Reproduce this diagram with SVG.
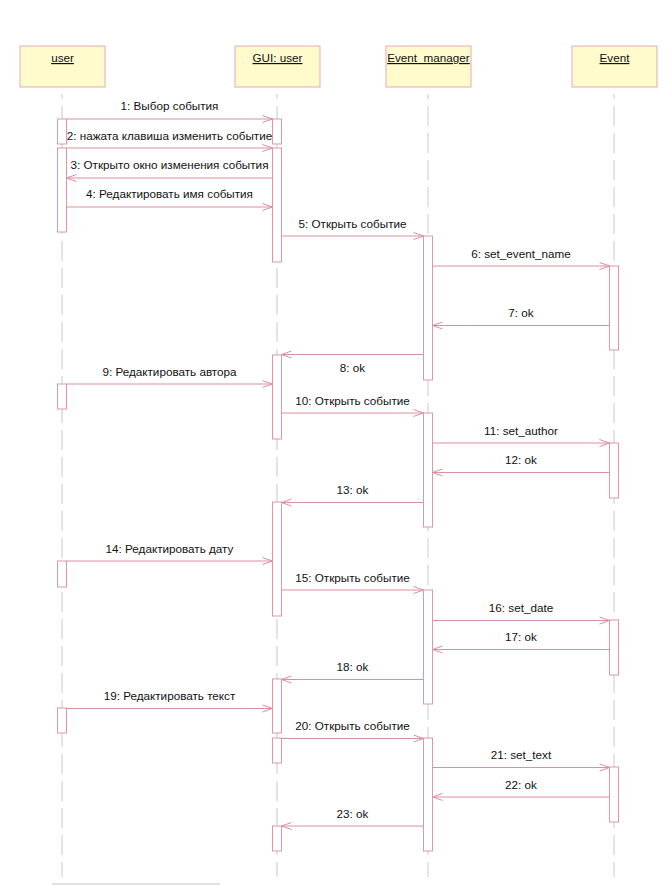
<svg xmlns="http://www.w3.org/2000/svg" width="668" height="885" viewBox="0 0 668 885">
<style>
.box{fill:#FFFBCC;stroke:#E6A9B4;stroke-width:1}
.obj{font-family:"Liberation Sans",Arial,sans-serif;font-size:11.7px;fill:#111;text-anchor:middle;text-decoration:underline}
.life{stroke:#C9C9C9;stroke-width:1;stroke-dasharray:20 7;stroke-dashoffset:15}
.act{fill:#FFFFFF;stroke:#DC98A8;stroke-width:1}
.msg{stroke:#DC8EA2;stroke-width:1;fill:none;marker-end:url(#ah)}
.lbl{font-family:"Liberation Sans",Arial,sans-serif;font-size:11.7px;fill:#111;text-anchor:middle}
</style>
<defs>
<marker id="ah" markerUnits="userSpaceOnUse" markerWidth="14" markerHeight="10" viewBox="-12 -5 14 10" refX="0" refY="0" orient="auto">
<path d="M -10 -3.5 L 0 0 L -10 3.5" fill="none" stroke="#DC8EA2" stroke-width="1"/>
</marker>
</defs>
<rect width="668" height="885" fill="#FFFFFF"/>

<g id="user">
<rect class="box" x="20" y="46" width="85" height="41"/>
<text class="obj" x="62.5" y="62">user</text>
<line class="life" x1="62" y1="94" x2="62" y2="877"/>
<rect class="act" x="57.5" y="119" width="9" height="25"/>
<rect class="act" x="57.5" y="148" width="9" height="84"/>
<rect class="act" x="57.5" y="384" width="9" height="25"/>
<rect class="act" x="57.5" y="561" width="9" height="26"/>
<rect class="act" x="57.5" y="708" width="9" height="25"/>
</g>

<g id="gui_user">
<rect class="box" x="235" y="46" width="85" height="41"/>
<text class="obj" x="277.5" y="62">GUI: user</text>
<line class="life" x1="277" y1="94" x2="277" y2="877"/>
<rect class="act" x="272.5" y="119" width="9" height="25"/>
<rect class="act" x="272.5" y="148" width="9" height="114"/>
<rect class="act" x="272.5" y="355" width="9" height="84"/>
<rect class="act" x="272.5" y="502" width="9" height="114"/>
<rect class="act" x="272.5" y="679" width="9" height="54"/>
<rect class="act" x="272.5" y="738" width="9" height="25"/>
<rect class="act" x="272.5" y="826" width="9" height="25"/>
</g>

<g id="event_manager">
<rect class="box" x="386" y="46" width="85" height="41"/>
<text class="obj" x="428.5" y="62">Event_manager</text>
<line class="life" x1="428" y1="94" x2="428" y2="877"/>
<rect class="act" x="423.5" y="236" width="9" height="144"/>
<rect class="act" x="423.5" y="413" width="9" height="114"/>
<rect class="act" x="423.5" y="590" width="9" height="114"/>
<rect class="act" x="423.5" y="738" width="9" height="113"/>
</g>

<g id="event">
<rect class="box" x="572" y="46" width="85" height="41"/>
<text class="obj" x="614.5" y="62">Event</text>
<line class="life" x1="614" y1="94" x2="614" y2="877"/>
<rect class="act" x="609.5" y="266" width="9" height="84"/>
<rect class="act" x="609.5" y="443" width="9" height="55"/>
<rect class="act" x="609.5" y="620" width="9" height="55"/>
<rect class="act" x="609.5" y="767" width="9" height="55"/>
</g>

<g id="connectors">
<line class="msg" x1="66.5" y1="119" x2="272.5" y2="119"/>
<text class="lbl" x="169.5" y="110">1: Выбор события</text>
<line class="msg" x1="66.5" y1="148" x2="272.5" y2="148"/>
<text class="lbl" x="169.5" y="139.5">2: нажата клавиша изменить событие</text>
<line class="msg" x1="272.5" y1="178" x2="66.5" y2="178"/>
<text class="lbl" x="169.5" y="169">3: Открыто окно изменения события</text>
<line class="msg" x1="66.5" y1="207" x2="272.5" y2="207"/>
<text class="lbl" x="169.5" y="198">4: Редактировать имя события</text>
<line class="msg" x1="281.5" y1="236" x2="423.5" y2="236"/>
<text class="lbl" x="352.5" y="228">5: Открыть событие</text>
<line class="msg" x1="432.5" y1="266" x2="609.5" y2="266"/>
<text class="lbl" x="521" y="257.5">6: set_event_name</text>
<line class="msg" x1="609.5" y1="325.5" x2="432.5" y2="325.5"/>
<text class="lbl" x="521" y="317">7: ok</text>
<line class="msg" x1="423.5" y1="354.5" x2="281.5" y2="354.5"/>
<text class="lbl" x="352.5" y="371.5">8: ok</text>
<line class="msg" x1="66.5" y1="384" x2="272.5" y2="384"/>
<text class="lbl" x="169.5" y="375.5">9: Редактировать автора</text>
<line class="msg" x1="281.5" y1="413" x2="423.5" y2="413"/>
<text class="lbl" x="352.5" y="405">10: Открыть событие</text>
<line class="msg" x1="432.5" y1="443" x2="609.5" y2="443"/>
<text class="lbl" x="521" y="434.5">11: set_author</text>
<line class="msg" x1="609.5" y1="472.5" x2="432.5" y2="472.5"/>
<text class="lbl" x="521" y="464">12: ok</text>
<line class="msg" x1="423.5" y1="502.5" x2="281.5" y2="502.5"/>
<text class="lbl" x="352.5" y="494">13: ok</text>
<line class="msg" x1="66.5" y1="561" x2="272.5" y2="561"/>
<text class="lbl" x="169.5" y="552.5">14: Редактировать дату</text>
<line class="msg" x1="281.5" y1="590" x2="423.5" y2="590"/>
<text class="lbl" x="352.5" y="581.5">15: Открыть событие</text>
<line class="msg" x1="432.5" y1="620.5" x2="609.5" y2="620.5"/>
<text class="lbl" x="521" y="612">16: set_date</text>
<line class="msg" x1="609.5" y1="649.5" x2="432.5" y2="649.5"/>
<text class="lbl" x="521" y="641">17: ok</text>
<line class="msg" x1="423.5" y1="679.5" x2="281.5" y2="679.5"/>
<text class="lbl" x="352.5" y="671">18: ok</text>
<line class="msg" x1="66.5" y1="708.5" x2="272.5" y2="708.5"/>
<text class="lbl" x="169.5" y="700">19: Редактировать текст</text>
<line class="msg" x1="281.5" y1="738.5" x2="423.5" y2="738.5"/>
<text class="lbl" x="352.5" y="730">20: Открыть событие</text>
<line class="msg" x1="432.5" y1="767.5" x2="609.5" y2="767.5"/>
<text class="lbl" x="521" y="759">21: set_text</text>
<line class="msg" x1="609.5" y1="797" x2="432.5" y2="797"/>
<text class="lbl" x="521" y="788.5">22: ok</text>
<line class="msg" x1="423.5" y1="826" x2="281.5" y2="826"/>
<text class="lbl" x="352.5" y="818">23: ok</text>
</g>

<line x1="52" y1="884" x2="220" y2="884" stroke="#D6D6D6" stroke-width="1.5"/>
</svg>
